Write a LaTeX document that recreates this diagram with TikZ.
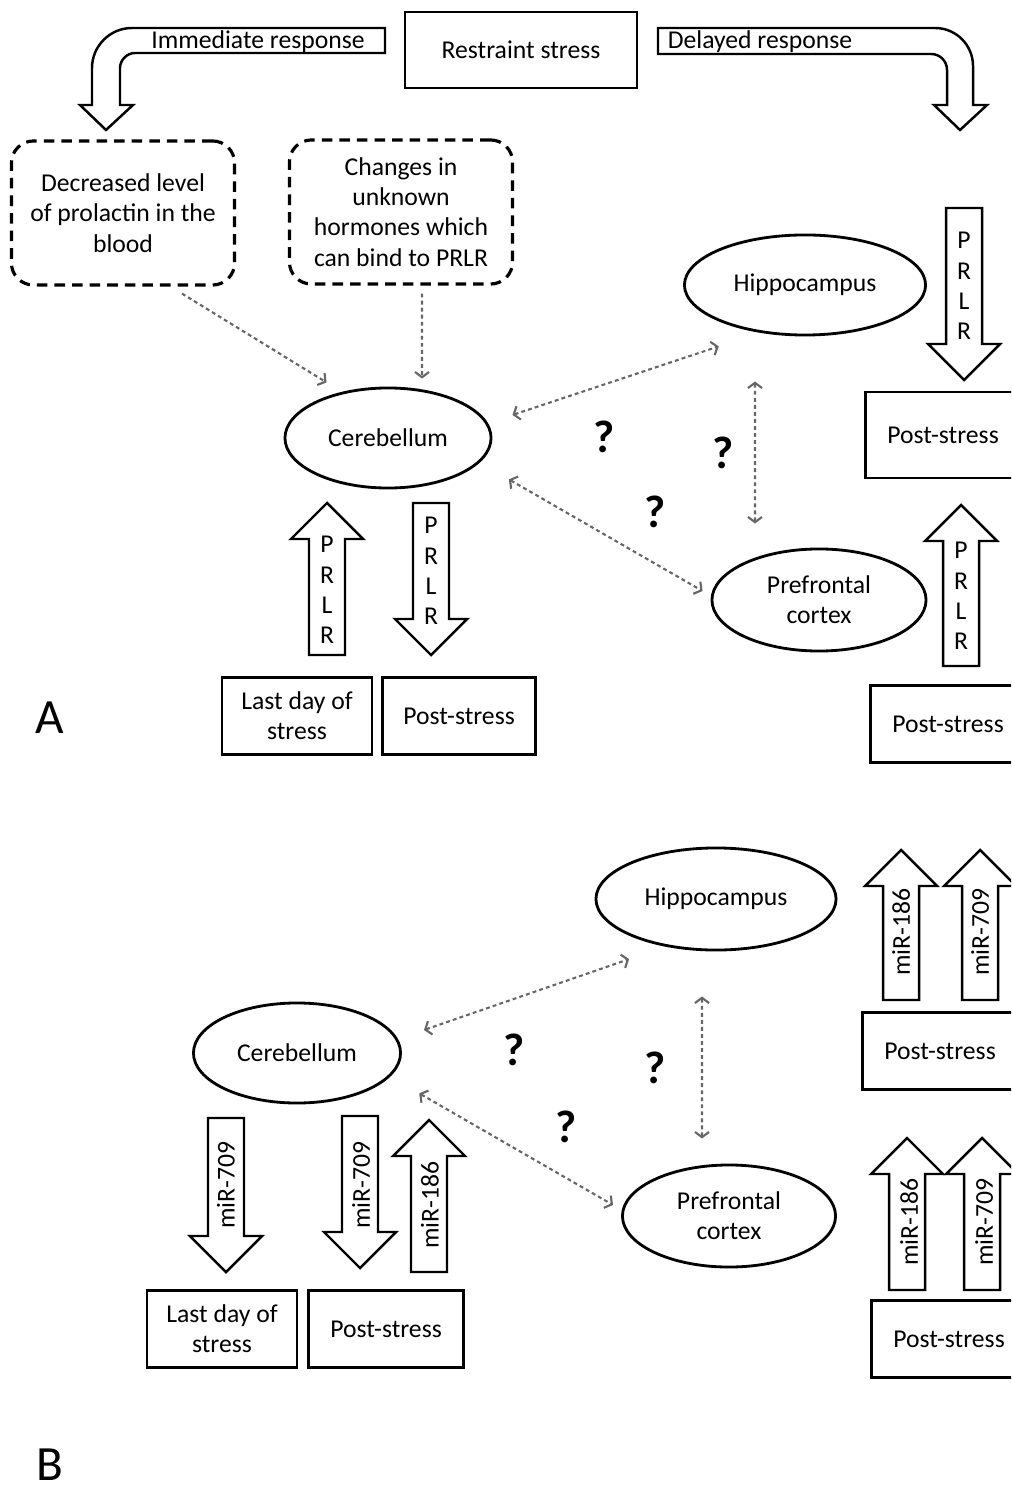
\documentclass[tikz,border=0pt]{standalone}
\usepackage{fontspec}
\setmainfont{Carlito}
\usetikzlibrary{arrows.meta,positioning,shapes.geometric}

\begin{document}
\begin{tikzpicture}[x=0.01cm,y=-0.01cm,>={Straight Barb[length=1.5pt,width=4pt]},
    font=\fontsize{7.3}{8.6}\selectfont,
    region/.style={ellipse,draw,line width=0.8pt,minimum width=20.6mm,minimum height=10mm,inner sep=0pt,align=center},
    period/.style={rectangle,draw,line width=0.7pt,minimum width=15mm,minimum height=7.7mm,inner sep=0pt,align=center},
    factor/.style={rectangle,draw,rounded corners=2.2mm,line width=0.9pt,dash pattern=on 3pt off 2pt,minimum width=22.3mm,minimum height=14.4mm,inner sep=0pt,align=center},
    response/.style={draw,line width=0.7pt},
    gene/.style={draw,line width=0.7pt,line join=miter},
    link/.style={gray!80!black,line width=0.6pt,dash pattern=on 1.1pt off 0.9pt},
    query/.style={font=\fontsize{13}{15}\selectfont\bfseries},
    panel/.style={font=\fontsize{14}{16}\selectfont,inner sep=0pt,text depth=0pt}]
    \useasboundingbox (0,0) rectangle (1011,1489);
    \clip (0,0) rectangle (1011,1489);

    \node[period,minimum width=23.2mm,minimum height=7.6mm] (stress) at (521,50) {Restraint stress};
    \draw[response] (385,28) -- (132,28) .. controls (110,28) and (92,46) .. (92,68) -- (92,105) -- (80,105) -- (106,130) -- (133,105) -- (120,105) -- (120,68) .. controls (120,60) and (127,53) .. (135,53) -- (385,53) -- cycle;
    \node (immediate) at (258,42) {Immediate response};
    \draw[response] (658,28) -- (935,28) .. controls (956,28) and (973,45) .. (973,66) -- (973,105) -- (987,105) -- (960,130) -- (934,105) -- (947,105) -- (947,70) .. controls (947,61) and (940,54) .. (931,54) -- (658,54) -- cycle;
    \node (delayed) at (760,42) {Delayed response};

    \node[factor] (prolactin) at (123,213) {Decreased level\\of prolactin in the\\blood};
    \node[factor] (hormones) at (401,212) {Changes in\\unknown\\hormones which\\can bind to PRLR};

    \node[region] (cerA) at (388,438) {Cerebellum};
    \node[region,minimum width=24.1mm] (hipA) at (805,285) {Hippocampus};
    \node[region,minimum width=21.4mm,minimum height=10.2mm] (prefA) at (819,600) {Prefrontal\\cortex};

    \node[period] (lastA) at (297,716) {Last day of\\stress};
    \node[period,minimum width=15.3mm,right=0.8mm of lastA] (postA) {Post-stress};
    \node[period,minimum width=15.5mm,minimum height=8.6mm] (postA1) at (943,435) {Post-stress};
    \node[period,minimum width=15.5mm] (postA2) at (948,724) {Post-stress};

    \draw[gene] (309,655) -- (309,539) -- (291,539) -- (327,503) -- (363,539) -- (345,539) -- (345,655) -- cycle;
    \draw[gene] (413,503) -- (413,619) -- (395,619) -- (431,655) -- (467,619) -- (449,619) -- (449,503) -- cycle;
    \draw[gene] (946,208) -- (946,344) -- (928,344) -- (964,380) -- (1000,344) -- (982,344) -- (982,208) -- cycle;
    \draw[gene] (943,666) -- (943,541) -- (925,541) -- (961,505) -- (997,541) -- (979,541) -- (979,666) -- cycle;
    \node[align=center] (prlrA1) at (327,590) {P\\R\\L\\R};
    \node[align=center] (prlrA2) at (431,571) {P\\R\\L\\R};
    \node[align=center] (prlrA3) at (964,286) {P\\R\\L\\R};
    \node[align=center] (prlrA4) at (961,596) {P\\R\\L\\R};

    \draw[link,->,shorten >=1.8mm] ([xshift=5.9mm,yshift=-0.7mm]prolactin.south) -- (cerA.135);
    \draw[link,->] ([xshift=2.1mm,yshift=-0.8mm]hormones.south) -- ([xshift=3.4mm,yshift=0.8mm]cerA.north);
    \draw[link,<->] ([xshift=2mm,yshift=2.3mm]cerA.east) -- ([yshift=-2.5mm]hipA.south west);
    \draw[link,<->] ([xshift=4.7mm,yshift=-0.5mm]cerA.south east) -- ([xshift=-0.8mm,yshift=0.9mm]prefA.west);
    \draw[link,<->] ([xshift=-5mm,yshift=-4.5mm]hipA.south) -- ([xshift=-6.4mm,yshift=2.4mm]prefA.north);

    \node[query] (qA1) at (604,437) {?};
    \node[query] (qA2) at (723,453) {?};
    \node[query] (qA3) at (655,512) {?};
    \node[panel] (panelA) at (50,718) {A};

    \node[region,minimum width=24mm,minimum height=10.2mm] (hipB) at (716,899) {Hippocampus};
    \node[region,minimum width=20.7mm] (cerB) at (297,1053) {Cerebellum};
    \node[region,minimum width=21.3mm,minimum height=10.2mm] (prefB) at (729,1216) {Prefrontal\\cortex};

    \node[period] (lastB) at (222,1329) {Last day of\\stress};
    \node[period,minimum width=15.5mm,right=0.9mm of lastB] (postB) {Post-stress};
    \node[period,minimum width=15.5mm] (postB1) at (940,1051) {Post-stress};
    \node[period,minimum width=15.5mm] (postB2) at (949,1339) {Post-stress};

    \draw[gene] (208,1118) -- (208,1236) -- (190,1236) -- (226,1272) -- (262,1236) -- (244,1236) -- (244,1118) -- cycle;
    \draw[gene] (342,1116) -- (342,1232) -- (324,1232) -- (360,1268) -- (396,1232) -- (378,1232) -- (378,1116) -- cycle;
    \draw[gene] (411,1272) -- (411,1156) -- (393,1156) -- (429,1120) -- (465,1156) -- (447,1156) -- (447,1272) -- cycle;
    \draw[gene] (883,1000) -- (883,886) -- (865,886) -- (901,850) -- (937,886) -- (919,886) -- (919,1000) -- cycle;
    \draw[gene] (962,1000) -- (962,886) -- (944,886) -- (980,850) -- (1016,886) -- (998,886) -- (998,1000) -- cycle;
    \draw[gene] (889,1290) -- (889,1174) -- (871,1174) -- (907,1138) -- (943,1174) -- (925,1174) -- (925,1290) -- cycle;
    \draw[gene] (964,1290) -- (964,1174) -- (946,1174) -- (982,1138) -- (1018,1174) -- (1000,1174) -- (1000,1290) -- cycle;
    \node[rotate=90] (mirB1) at (226,1185) {miR-709};
    \node[rotate=90] (mirB2) at (361,1185) {miR-709};
    \node[rotate=90] (mirB3) at (430,1205) {miR-186};
    \node[rotate=90] (mirB4) at (901,932) {miR-186};
    \node[rotate=90] (mirB5) at (980,932) {miR-709};
    \node[rotate=90] (mirB6) at (909,1222) {miR-186};
    \node[rotate=90] (mirB7) at (984,1222) {miR-709};

    \draw[link,<->] ([xshift=2.2mm,yshift=2.3mm]cerB.east) -- ([xshift=-0.1mm,yshift=-2.3mm]hipB.south west);
    \draw[link,<->] ([xshift=4.8mm,yshift=-0.4mm]cerB.south east) -- ([xshift=-0.8mm,yshift=1.1mm]prefB.west);
    \draw[link,<->] ([xshift=-1.4mm,yshift=-4.5mm]hipB.south) -- ([xshift=-2.7mm,yshift=2.5mm]prefB.north);

    \node[query] (qB1) at (514,1050) {?};
    \node[query] (qB2) at (655,1068) {?};
    \node[query] (qB3) at (566,1127) {?};
    \node[panel] (panelB) at (50,1465) {B};
\end{tikzpicture}
\end{document}
